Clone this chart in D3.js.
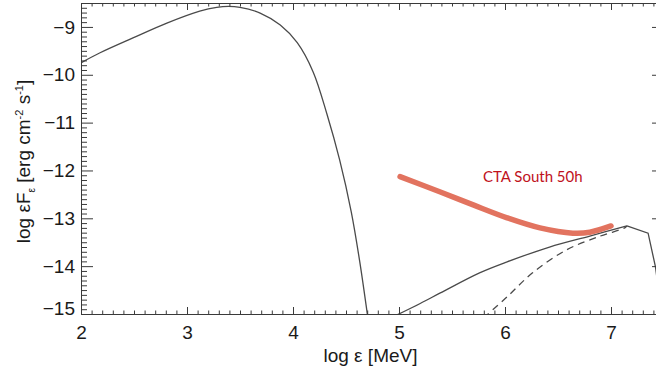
<!DOCTYPE html>
<html lang="en">
<head>
<meta charset="UTF-8">
<title>Spectrum with CTA South sensitivity</title>
<script src="https://d3js.org/d3.v7.min.js"></script>
<style>
  body, html { margin: 0; background: #fff; }
  svg { display: block; }
  .tick text { font-family: "Liberation Sans", Arial, sans-serif; font-size: 19px; fill: #1a1a1a; }
  .axis path, .axis line { stroke: #3a3a3a; stroke-width: 1; }
  .title { font-family: "Liberation Sans", Arial, sans-serif; font-size: 19px; fill: #1a1a1a; }
</style>
</head>
<body>
<svg width="656" height="374"></svg>
<script>
// synchrotron-like bump (solid, left)
const syncE = [2.0, 2.18, 2.49, 2.81, 3.12, 3.28, 3.39, 3.50, 3.69, 3.88, 4.04, 4.19, 4.32, 4.44, 4.55, 4.63, 4.70, 4.72];
const syncF = [-9.75, -9.54, -9.23, -8.92, -8.67, -8.59, -8.57, -8.59, -8.71, -8.96, -9.33, -9.94, -10.82, -11.78, -12.87, -13.91, -14.98, -15.3];

// high-energy component (solid); rises smoothly up to the peak, then falls
const icE = [4.98, 5.2, 5.39, 5.76, 6.02, 6.42, 6.80, 7.15, 7.35, 7.42, 7.46];
const icF = [-15.02, -14.78, -14.56, -14.14, -13.91, -13.60, -13.37, -13.16, -13.31, -14.02, -14.7];

// high-energy component (dashed)
const dashE = [5.80, 6.02, 6.26, 6.58, 6.90, 7.13, 7.15];
const dashF = [-15.08, -14.64, -14.14, -13.66, -13.37, -13.20, -13.16];

// CTA South 50h sensitivity
const ctaE = [5.01, 5.39, 5.70, 6.02, 6.33, 6.64, 6.80, 7.0];
const ctaF = [-12.13, -12.45, -12.72, -12.99, -13.20, -13.31, -13.29, -13.16];

const xMajor = [2, 3, 4, 5, 6, 7];
const yMajor = [-15, -14, -13, -12, -11, -10, -9];

const svg = d3.select("svg");
const pLeft = 81, pRight = 664, pTop = 3, pBottom = 314;

const x = d3.scaleLinear().domain([2, 7.5]).range([pLeft, pRight]);
const y = d3.scaleLinear().domain([-15, -8.5]).range([pBottom, pTop]);

const xMinor = d3.range(20, 76).map(d => d / 10).filter(d => d % 1 !== 0);
const yMinor = d3.range(-150, -84).map(d => d / 10).filter(d => d % 1 !== 0);

svg.append("defs").append("clipPath").attr("id", "plot")
  .append("rect").attr("x", pLeft).attr("y", pTop)
  .attr("width", pRight - pLeft).attr("height", pBottom - pTop);

// curves
const g = svg.append("g").attr("clip-path", "url(#plot)");
const pts = (xs, ys) => xs.map((d, i) => [d, ys[i]]);

const smooth = d3.line().x(d => x(d[0])).y(d => y(d[1])).curve(d3.curveCatmullRom.alpha(0.5));
const straight = d3.line().x(d => x(d[0])).y(d => y(d[1]));

function curve(d, gen) {
  return g.append("path").attr("d", gen(d))
    .attr("fill", "none").attr("stroke", "#4a4a4a").attr("stroke-width", 1.3);
}

curve(pts(syncE, syncF), smooth);
const ic = pts(icE, icF);
curve(ic.slice(0, 8), smooth);
curve(ic.slice(7), straight);
curve(pts(dashE, dashF), smooth).attr("stroke-dasharray", "7,5");

g.append("path").attr("d", smooth(pts(ctaE, ctaF)))
  .attr("fill", "none").attr("stroke", "#e2735f").attr("stroke-width", 5.5)
  .attr("stroke-linecap", "round");

// axes: bottom/left with labels, top/right mirrored
svg.append("g").attr("class", "axis").attr("transform", `translate(0,${pBottom})`)
  .call(d3.axisBottom(x).tickValues(xMajor).tickFormat(d3.format("d"))
    .tickSizeInner(-7).tickSizeOuter(0).tickPadding(12));
svg.append("g").attr("class", "axis").attr("transform", `translate(0,${pBottom})`)
  .call(d3.axisBottom(x).tickValues(xMinor).tickFormat("").tickSizeInner(-3.5).tickSizeOuter(0));
svg.append("g").attr("class", "axis").attr("transform", `translate(0,${pTop})`)
  .call(d3.axisTop(x).tickValues(xMajor).tickFormat("").tickSizeInner(-7).tickSizeOuter(0));
svg.append("g").attr("class", "axis").attr("transform", `translate(0,${pTop})`)
  .call(d3.axisTop(x).tickValues(xMinor).tickFormat("").tickSizeInner(-3.5).tickSizeOuter(0));

const yAx = svg.append("g").attr("class", "axis").attr("transform", `translate(${pLeft},0)`)
  .call(d3.axisLeft(y).tickValues(yMajor).tickFormat(d3.format("d"))
    .tickSizeInner(-12).tickSizeOuter(0).tickPadding(6));
// lowest label sits a little above the bottom axis in the original
yAx.selectAll(".tick text").filter(d => d === -15).attr("y", -6);
svg.append("g").attr("class", "axis").attr("transform", `translate(${pLeft},0)`)
  .call(d3.axisLeft(y).tickValues(yMinor).tickFormat("").tickSizeInner(-6).tickSizeOuter(0));
svg.append("g").attr("class", "axis").attr("transform", `translate(${pRight},0)`)
  .call(d3.axisRight(y).tickValues(yMajor).tickFormat("").tickSizeInner(-12).tickSizeOuter(0));
svg.append("g").attr("class", "axis").attr("transform", `translate(${pRight},0)`)
  .call(d3.axisRight(y).tickValues(yMinor).tickFormat("").tickSizeInner(-6).tickSizeOuter(0));

// axis titles
svg.append("text").attr("class", "title")
  .attr("x", (pLeft + pRight) / 2 - 2).attr("y", 362)
  .attr("text-anchor", "middle")
  .text("log \u03b5 [MeV]");

const yt = svg.append("text").attr("class", "title")
  .attr("transform", `translate(30,${(pTop + pBottom) / 2 + 3}) rotate(-90)`)
  .attr("text-anchor", "middle");
yt.append("tspan").text("log \u03b5F");
yt.append("tspan").attr("font-size", 10).attr("dy", 5).text("\u03b5");
yt.append("tspan").attr("dy", -5).text(" [erg cm");
yt.append("tspan").attr("font-size", 11).attr("dy", -7).text("-2");
yt.append("tspan").attr("dy", 7).text(" s");
yt.append("tspan").attr("font-size", 11).attr("dy", -7).text("-1");
yt.append("tspan").attr("dy", 7).text("]");

// annotation
svg.append("text")
  .attr("x", 483).attr("y", 182)
  .attr("font-family", "Lato, 'Open Sans', sans-serif")
  .attr("font-size", 15)
  .attr("fill", "#c0121c")
  .text("CTA South 50h");
</script>
</body>
</html>
